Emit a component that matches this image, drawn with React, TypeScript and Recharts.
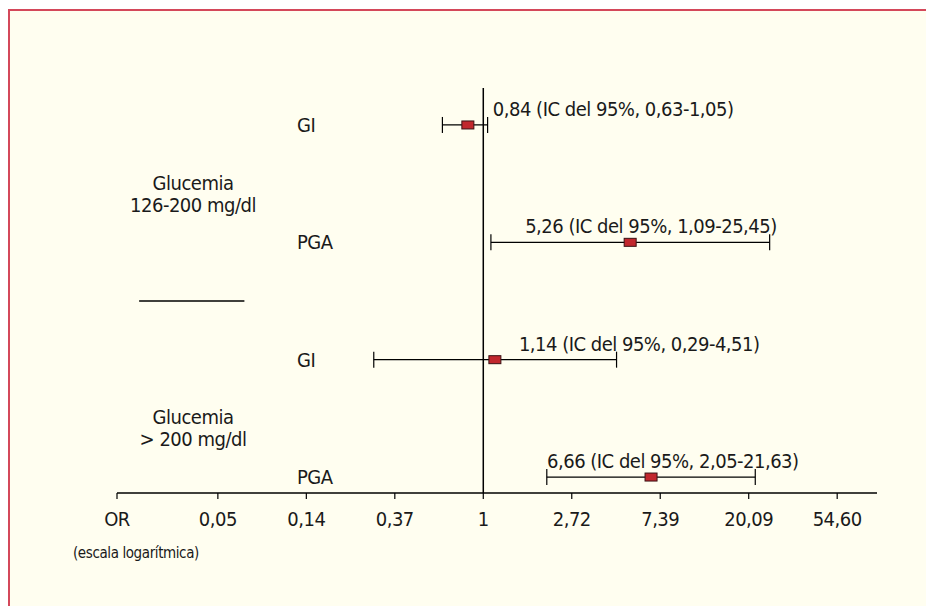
import { ScatterChart, Scatter, XAxis, YAxis, ErrorBar, ReferenceLine } from 'recharts'

// odds ratios with 95% CI, one row per comparison
const rowLabels = ['GI', 'PGA', 'GI', 'PGA']
const oddsRatio = [0.84, 5.26, 1.14, 6.66]
const ciLow = [0.63, 1.09, 0.29, 2.05]
const ciHigh = [1.05, 25.45, 4.51, 21.63]

const groupLabels = [
  ['Glucemia', '126-200 mg/dl'],
  ['Glucemia', '> 200 mg/dl'],
]
const groupRows = [
  [0, 1],
  [2, 3],
]

// log scale ticks, as powers of e
const tickExponents = [-4.14, -3, -2, -1, 0, 1, 2, 3, 4]
const tickLabels = ['OR', '0,05', '0,14', '0,37', '1', '2,72', '7,39', '20,09', '54,60']

// layout
const FONT = "'Liberation Sans Narrow', 'DejaVu Sans Condensed', 'Roboto', sans-serif"
const TEXT = '#1a1a1a'
const FS = 20
const labelDx = [25, -105, 24, -104]

const fmt = (v: number) => v.toFixed(2).replace('.', ',')

const n = rowLabels.length
const data = rowLabels.map((label, i) => ({
  i,
  label,
  or: oddsRatio[i],
  y: n - i,
  err: [oddsRatio[i] - ciLow[i], ciHigh[i] - oddsRatio[i]],
  text: `${fmt(oddsRatio[i])} (IC del 95%, ${fmt(ciLow[i])}-${fmt(ciHigh[i])})`,
}))
const groupTicks = groupRows.map(([a, b]) => n - (a + b) / 2)
const yTicks = [...data.map((d) => d.y), ...groupTicks]
const tickValues = tickExponents.map((e) => Math.exp(e))

function RowTick(props: any) {
  const { y, payload } = props
  const g = groupTicks.indexOf(payload.value)
  if (g >= 0) {
    return (
      <g fill={TEXT} fontSize={FS} textAnchor="middle">
        <text x={183} y={y - 1} dy="0.35em">{groupLabels[g][0]}</text>
        <text x={183} y={y + 21} dy="0.35em">{groupLabels[g][1]}</text>
      </g>
    )
  }
  const row = data.find((d) => d.y === payload.value)
  return (
    <text x={287} y={y} dy="0.35em" fill={TEXT} fontSize={FS}>
      {row ? row.label : ''}
    </text>
  )
}

function Marker(props: any) {
  const { cx, cy, payload } = props
  return (
    <g>
      <rect x={cx - 6} y={cy - 4} width={12} height={8} fill="#c1272d" stroke="#3a1214" strokeWidth={1} />
      <text x={cx + labelDx[payload.i]} y={cy - 16} dy="0.35em" fill={TEXT} fontSize={FS}>
        {payload.text}
      </text>
    </g>
  )
}

export default function App() {
  return (
    <div
      style={{
        position: 'absolute',
        left: 8,
        top: 9,
        width: 916,
        height: 595,
        borderTop: '2px solid #d4485a',
        borderLeft: '2px solid #d4485a',
        background: '#fffef0',
        fontFamily: FONT,
        letterSpacing: '-0.5px',
      }}
    >
      <ScatterChart width={916} height={595} margin={{ top: 77, right: 49, bottom: 73, left: 0 }}>
        <XAxis
          type="number"
          dataKey="or"
          scale="log"
          domain={[Math.exp(-4.14), Math.exp(4.45)]}
          allowDataOverflow
          ticks={tickValues}
          interval={0}
          tickFormatter={(v: number) => tickLabels[tickValues.indexOf(v)] ?? ''}
          height={40}
          axisLine={{ stroke: '#000', strokeWidth: 1.5 }}
          tickLine={{ stroke: '#000', strokeWidth: 1.2 }}
          tickSize={6}
          tickMargin={13}
          tick={{ fontSize: FS, fill: TEXT }}
        />
        <YAxis
          type="number"
          dataKey="y"
          domain={[0.864, 4.315]}
          allowDataOverflow
          ticks={yTicks}
          interval={0}
          width={107}
          axisLine={false}
          tickLine={false}
          tick={<RowTick />}
        />
        <ReferenceLine x={1} stroke="#000" strokeWidth={1.5} />
        <ReferenceLine
          segment={[
            { x: Math.exp(-3.89), y: 2.5 },
            { x: Math.exp(-2.7), y: 2.5 },
          ]}
          stroke="#000"
          strokeWidth={1.5}
        />
        <Scatter data={data} isAnimationActive={false} shape={<Marker />}>
          <ErrorBar dataKey="err" direction="x" width={8} stroke="#000" strokeWidth={1.2} />
        </Scatter>
      </ScatterChart>
      <div
        style={{
          position: 'absolute',
          left: 63,
          top: 532,
          fontSize: 15,
          lineHeight: '20px',
          color: TEXT,
          whiteSpace: 'nowrap',
          letterSpacing: '-0.4px',
        }}
      >
        (escala logarítmica)
      </div>
    </div>
  )
}
